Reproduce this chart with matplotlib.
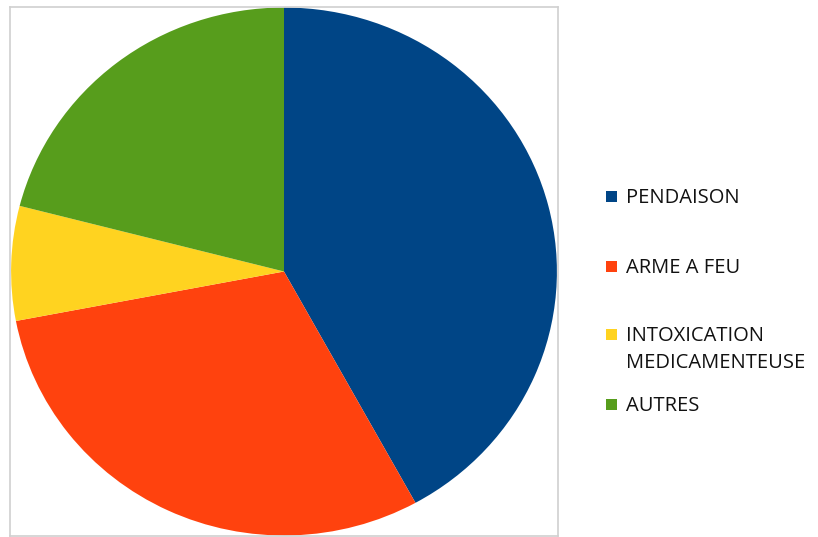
import matplotlib
matplotlib.use("Agg")
import matplotlib.pyplot as plt
from matplotlib.patches import Rectangle

# Method shares (%)
categories = ["PENDAISON", "ARME A FEU", "INTOXICATION\nMEDICAMENTEUSE", "AUTRES"]
values = [42, 30, 7, 21]
colors = ["#004586", "#FF420E", "#FFD320", "#579D1C"]

W, H = 818, 537
fig = plt.figure(figsize=(W / 100, H / 100), dpi=100)
fig.patch.set_facecolor("white")

# plot area (pixel box converted to figure fractions)
x0, y0, x1, y1 = 10, 7, 558, 536
ax = fig.add_axes([x0 / W, 1 - y1 / H, (x1 - x0) / W, (y1 - y0) / H])
wedges, _ = ax.pie(values, colors=colors, startangle=90, counterclock=False,
                   wedgeprops=dict(linewidth=0))
ax.set_aspect("auto")
ax.set_xlim(-1.004, 1.004)
ax.set_ylim(-1.002, 1.002)
ax.set_frame_on(True)
for sp in ax.spines.values():
    sp.set_color("#d0d0d0")
    sp.set_linewidth(1.2)
ax.set_xticks([])
ax.set_yticks([])

# legend drawn row by row
row_y = [196, 266, 334, 404]
for label, color, yc in zip(categories, colors, row_y):
    fig.patches.append(Rectangle((606 / W, 1 - (yc + 5.5) / H), 11 / W, 11 / H,
                                 transform=fig.transFigure, facecolor=color,
                                 edgecolor="none"))
    fig.text(626 / W, 1 - (yc - 8) / H, label, ha="left", va="top",
             fontsize=14.5, family="Open Sans", color="#111111",
             linespacing=1.45)

fig.savefig("out.png", dpi=100)
